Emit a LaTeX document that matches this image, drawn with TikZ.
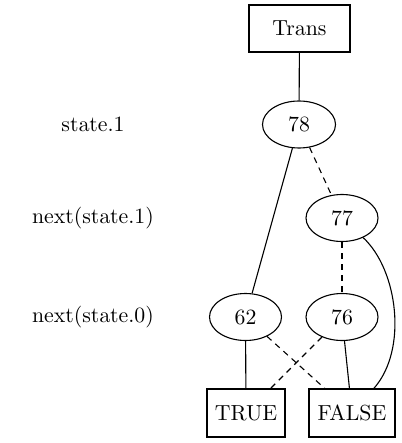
\documentclass[tikz,border=0pt]{standalone}
\usetikzlibrary{shapes.geometric}
\font\nodefont=cmr10 at 21.8pt
\begin{document}
\begin{tikzpicture}[x=1pt,y=-1pt,
  every node/.style={font=\nodefont, inner sep=0pt},
  boxnode/.style={draw, rectangle, line width=1.1pt},
  ellnode/.style={draw, ellipse, line width=1.1pt, minimum width=72pt, minimum height=47pt},
  solidedge/.style={line width=1.1pt},
  dashededge/.style={line width=1.1pt, dash pattern=on 6pt off 5pt}]
\useasboundingbox (0,0) rectangle (401,443);
\node[boxnode, minimum width=101pt, minimum height=47pt] (trans) at (299.5,28.5) {Trans};
\node[ellnode, minimum width=73pt] (n78) at (299,124.5) {78};
\node[ellnode] (n77) at (342,218) {77};
\node[ellnode] (n62) at (245.5,317) {62};
\node[ellnode] (n76) at (342,317) {76};
\node[boxnode, minimum width=78pt, minimum height=48pt] (true) at (246,413) {TRUE};
\node[boxnode, minimum width=86pt, minimum height=48pt] (false) at (352,413) {FALSE};
\node (l1) at (93,124.5) {state.1};
\node (l2) at (93,218) {next(state.1)};
\node (l3) at (93,317) {next(state.0)};
\draw[solidedge] (trans) -- (n78);
\draw[solidedge] (n78) -- (n62);
\draw[dashededge] (n78) -- (n77);
\draw[dashededge] (n77) -- (n76);
\draw[solidedge] (n77) .. controls (398,270) and (408,350) .. (false);
\draw[solidedge] (n62) -- (true);
\draw[dashededge] (n62) -- (false);
\draw[dashededge] (n76) -- (true);
\draw[solidedge] (n76) -- (false);
\end{tikzpicture}
\end{document}
